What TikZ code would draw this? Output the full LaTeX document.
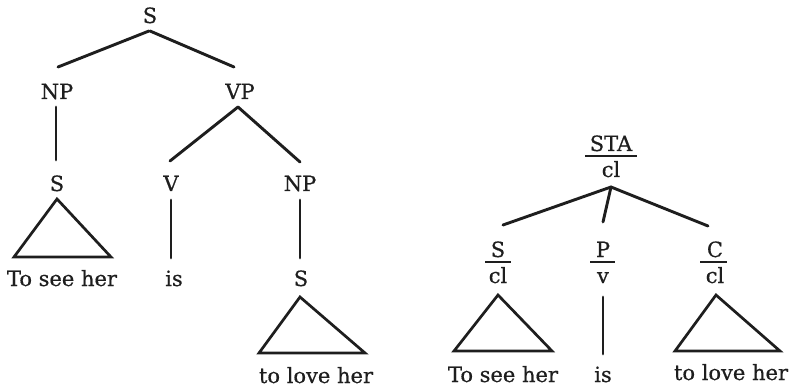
\documentclass[tikz,border=0pt]{standalone}
\usepackage{fontspec}
\setmainfont{DejaVu Serif}[FakeBold=0.6]
\usetikzlibrary{calc}
\definecolor{ink}{HTML}{1E1E1E}
\begin{document}
\begin{tikzpicture}[x=1pt,y=-1pt,
  lab/.style={anchor=base,inner sep=0pt,text=ink,font=\fontsize{21}{25}\selectfont},
  branch/.style={line width=2.9pt,draw=ink,line cap=round},
  roof/.style={line width=2.7pt,draw=ink,line join=miter},
  bar/.style={line width=1.8pt,draw=ink}]
\useasboundingbox (0,0) rectangle (794,387);

% ---------- phrase-structure tree ----------
\node[lab] (s)   at (150,23)  {S};
\node[lab] (np)  at (57,99)   {NP};
\node[lab] (vp)  at (240,99)  {VP};
\node[lab] (s2)  at (57,191)  {S};
\node[lab] (v)   at (171,191) {V};
\node[lab] (np2) at (300,191) {NP};
\node[lab] (w1)  at (62,286)  {To see her};
\node[lab] (w2)  at (174,286) {is};
\node[lab] (s3)  at (301,286) {S};
\node[lab] (w3)  at (316,383) {to love her};

\draw[branch] ($(s.base)+(-1,8)$) -- ($(np.base)+(1,-32)$);
\draw[branch] ($(s.base)+(0,8)$) -- ($(vp.base)+(-6,-32)$);
\draw[branch] ($(np.base)+(-1,8)$) -- ($(s2.base)+(-1,-31)$);
\draw[branch] ($(vp.base)+(-2,8)$) -- ($(v.base)+(-1,-30)$);
\draw[branch] ($(vp.base)+(-2,8)$) -- ($(np2.base)+(0,-29)$);
\draw[roof] ($(s2.base)+(0,8)$) -- ++(-43,58) -- ++(97,0) -- cycle;
\draw[branch] ($(v.base)+(0,9)$) -- ($(w2.base)+(-3,-28)$);
\draw[branch] ($(np2.base)+(0,9)$) -- ($(s3.base)+(-1,-28)$);
\draw[roof] ($(s3.base)+(-1,11)$) -- ++(-41,56) -- ++(106,0) -- cycle;

% ---------- function/category tree ----------
\node[lab] (sta)    at (611,151) {STA};
\node[lab] (stacl)  at (611,177) {cl};
\node[lab] (subj)   at (498,257) {S};
\node[lab] (subjcl) at (498,283) {cl};
\node[lab] (pred)   at (603,257) {P};
\node[lab] (predv)  at (603,283) {v};
\node[lab] (comp)   at (715,257) {C};
\node[lab] (compcl) at (715,283) {cl};
\node[lab] (r1)     at (503,382) {To see her};
\node[lab] (r2)     at (603,382) {is};
\node[lab] (r3)     at (731,380) {to love her};

\draw[bar] ($(sta.base)+(-26,5)$) -- ++(52,0);
\draw[bar] ($(subj.base)+(-13,5)$) -- ++(26,0);
\draw[bar] ($(pred.base)+(-13,5)$) -- ++(25,0);
\draw[bar] ($(comp.base)+(-15,5)$) -- ++(27,0);

\draw[branch] ($(stacl.base)+(0,10)$) -- ($(subj.base)+(5,-32)$);
\draw[branch] ($(stacl.base)+(0,10)$) -- ($(pred.base)+(0,-35)$);
\draw[branch] ($(stacl.base)+(0,10)$) -- ($(comp.base)+(-7,-31)$);
\draw[roof] ($(subjcl.base)+(0,12)$) -- ++(-44,56) -- ++(98,0) -- cycle;
\draw[branch] ($(predv.base)+(0,14)$) -- ($(r2.base)+(0,-28)$);
\draw[roof] ($(compcl.base)+(1,12)$) -- ++(-41,56) -- ++(105,0) -- cycle;
\end{tikzpicture}
\end{document}
